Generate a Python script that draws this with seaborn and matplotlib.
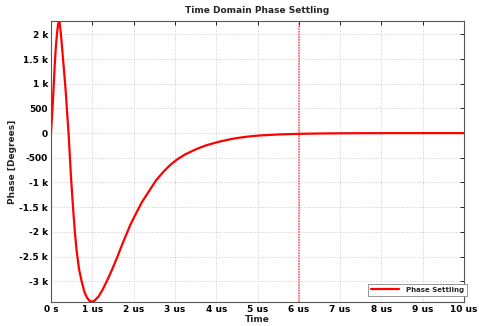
import numpy as np
import pandas as pd
import matplotlib
matplotlib.use('Agg')
import matplotlib.pyplot as plt
import seaborn as sns
from matplotlib.ticker import EngFormatter, FuncFormatter, MultipleLocator

# phase settling (time in us, phase in degrees)
time_us = [0.00, 0.03, 0.05, 0.09, 0.12, 0.15, 0.17, 0.19, 0.21, 0.24, 0.27,
           0.29, 0.33, 0.36, 0.39, 0.425, 0.455, 0.485, 0.515, 0.546, 0.58,
           0.62, 0.68, 0.75, 0.81, 0.87, 0.93, 0.99, 1.05, 1.15, 1.25, 1.35,
           1.47, 1.59, 1.75, 1.92, 2.05, 2.20, 2.40, 2.55, 2.72, 2.88, 3.05,
           3.25, 3.53, 3.75, 4.02, 4.25, 4.50, 4.75, 5.05, 5.55, 6.00, 6.50,
           7.00, 7.50, 8.00, 9.00, 10.00]
phase_deg = [0, 420, 700, 1380, 1780, 2050, 2200, 2265, 2230, 2000, 1720,
             1510, 1120, 800, 420, 0, -450, -900, -1280, -1650, -2020,
             -2380, -2760, -3030, -3220, -3330, -3395, -3415, -3395, -3310, -3170, -3000,
             -2780, -2540, -2200, -1860, -1640, -1400, -1140, -950, -785, -650, -535,
             -430, -320, -250, -185, -140, -100, -72, -48, -26, -15, -8,
             -4, -2, -1, 0, 0]
marker_time = 6.0
series_name = 'Phase Settling'

df = pd.DataFrame({'Time': time_us, 'Phase': phase_deg, 'series': series_name})

sns.set_theme(style='white')
plt.rcParams['font.family'] = ['DejaVu Sans']
plt.rcParams['axes.unicode_minus'] = False

fig = plt.figure(figsize=(4.79, 3.26), dpi=100)
ax = fig.add_axes([51 / 479, 1 - 302 / 326, 413 / 479, 281 / 326])

sns.lineplot(data=df, x='Time', y='Phase', hue='series', palette=['red'],
             estimator=None, linewidth=1.6, ax=ax, legend=True)
ax.axvline(marker_time, color='#ff2020', linestyle=(0, (1, 0.6)), linewidth=1.2,
           alpha=0.7, zorder=3)

ax.set_xlim(0, 10)
ax.set_ylim(-3420, 2270)
ax.xaxis.set_major_locator(MultipleLocator(1))
ax.yaxis.set_major_locator(MultipleLocator(500))
ax.xaxis.set_major_formatter(FuncFormatter(lambda v, p: '0 s' if v == 0 else f'{v:g} us'))
ax.yaxis.set_major_formatter(EngFormatter(sep=' '))

ax.grid(True, linestyle=':', color='#cccccc', linewidth=0.7)
ax.tick_params(direction='in', length=3, width=0.6, top=True, right=True,
               labelsize=6.5, pad=2, colors='black')
for lab in ax.get_xticklabels() + ax.get_yticklabels():
    lab.set_fontweight('bold')
for s in ax.spines.values():
    s.set_color('#555555')
    s.set_linewidth(0.8)

ax.set_title('Time Domain Phase Settling', fontsize=6.5, fontweight='bold', pad=6)
ax.set_xlabel('Time', fontsize=6.5, fontweight='bold', labelpad=1)
ax.set_ylabel('Phase [Degrees]', fontsize=6.5, fontweight='bold', labelpad=2)

leg = ax.legend(loc='lower right', bbox_to_anchor=(470 / 479, 1 - 299 / 326),
                bbox_transform=fig.transFigure, fontsize=5, frameon=True,
                fancybox=False, framealpha=1, edgecolor='#888888',
                handlelength=4, borderpad=0.4, handletextpad=1.0)
for t in leg.get_texts():
    t.set_fontweight('bold')
leg.get_frame().set_linewidth(0.6)

fig.savefig('out.png', dpi=100)
